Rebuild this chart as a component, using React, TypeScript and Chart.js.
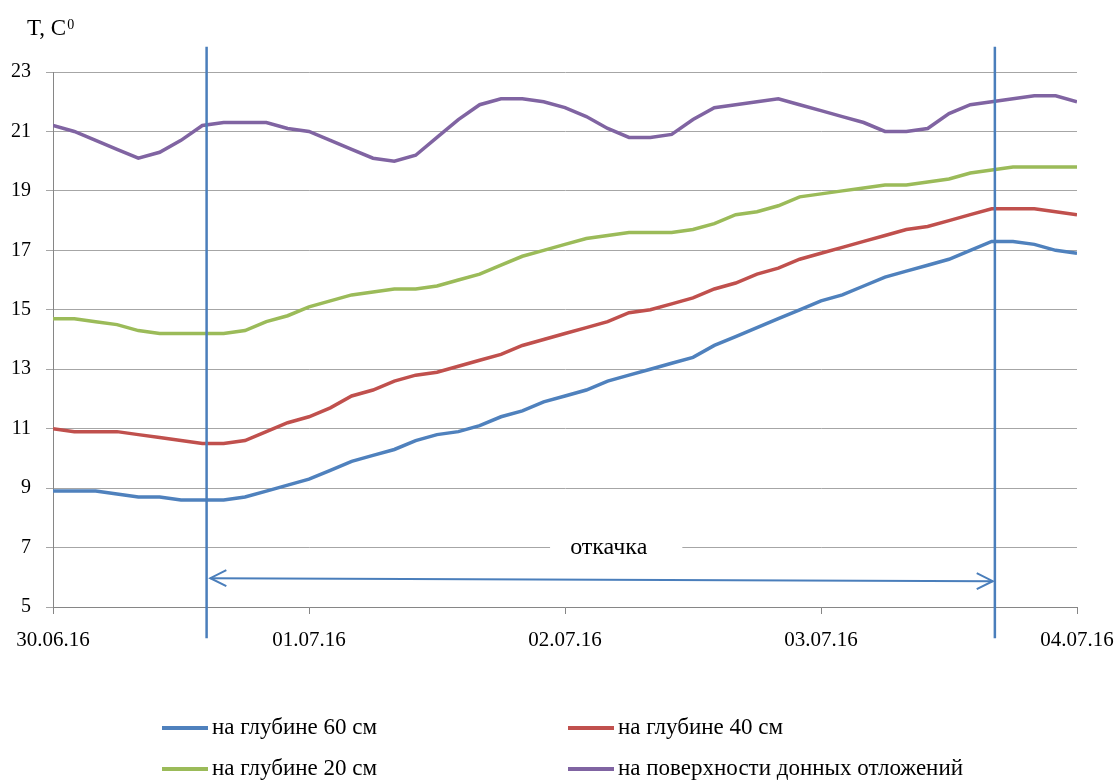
import React, { useEffect, useRef } from "react";
import { Chart, registerables } from "chart.js";

Chart.register(...registerables);

// hours since 30.06.16 00:00
const HOURS = [0, 2, 4, 6, 8, 10, 12, 14, 16, 18, 20, 22, 24, 26, 28, 30, 32, 34, 36, 38, 40, 42, 44, 46, 48, 50, 52, 54, 56, 58, 60, 62, 64, 66, 68, 70, 72, 74, 76, 78, 80, 82, 84, 86, 88, 90, 92, 94, 96];

const DAY_LABELS = ["30.06.16", "01.07.16", "02.07.16", "03.07.16", "04.07.16"];

const DEPTH_60 = [8.9, 8.9, 8.9, 8.8, 8.7, 8.7, 8.6, 8.6, 8.6, 8.7, 8.9, 9.1, 9.3, 9.6, 9.9, 10.1, 10.3, 10.6, 10.8, 10.9, 11.1, 11.4, 11.6, 11.9, 12.1, 12.3, 12.6, 12.8, 13.0, 13.2, 13.4, 13.8, 14.1, 14.4, 14.7, 15.0, 15.3, 15.5, 15.8, 16.1, 16.3, 16.5, 16.7, 17.0, 17.3, 17.3, 17.2, 17.0, 16.9];

const DEPTH_40 = [11.0, 10.9, 10.9, 10.9, 10.8, 10.7, 10.6, 10.5, 10.5, 10.6, 10.9, 11.2, 11.4, 11.7, 12.1, 12.3, 12.6, 12.8, 12.9, 13.1, 13.3, 13.5, 13.8, 14.0, 14.2, 14.4, 14.6, 14.9, 15.0, 15.2, 15.4, 15.7, 15.9, 16.2, 16.4, 16.7, 16.9, 17.1, 17.3, 17.5, 17.7, 17.8, 18.0, 18.2, 18.4, 18.4, 18.4, 18.3, 18.2];

const DEPTH_20 = [14.7, 14.7, 14.6, 14.5, 14.3, 14.2, 14.2, 14.2, 14.2, 14.3, 14.6, 14.8, 15.1, 15.3, 15.5, 15.6, 15.7, 15.7, 15.8, 16.0, 16.2, 16.5, 16.8, 17.0, 17.2, 17.4, 17.5, 17.6, 17.6, 17.6, 17.7, 17.9, 18.2, 18.3, 18.5, 18.8, 18.9, 19.0, 19.1, 19.2, 19.2, 19.3, 19.4, 19.6, 19.7, 19.8, 19.8, 19.8, 19.8];

const SURFACE = [21.2, 21.0, 20.7, 20.4, 20.1, 20.3, 20.7, 21.2, 21.3, 21.3, 21.3, 21.1, 21.0, 20.7, 20.4, 20.1, 20.0, 20.2, 20.8, 21.4, 21.9, 22.1, 22.1, 22.0, 21.8, 21.5, 21.1, 20.8, 20.8, 20.9, 21.4, 21.8, 21.9, 22.0, 22.1, 21.9, 21.7, 21.5, 21.3, 21.0, 21.0, 21.1, 21.6, 21.9, 22.0, 22.1, 22.2, 22.2, 22.0];

const SERIES_NAMES = ["на глубине 60 см", "на глубине 40 см", "на глубине 20 см", "на поверхности донных отложений"];
const SERIES_VALUES = [DEPTH_60, DEPTH_40, DEPTH_20, SURFACE];
const SERIES_COLORS = ["#4F81BD", "#C0504D", "#9BBB59", "#8064A2"];

const Y_TITLE = "T, C";
const Y_TITLE_SUP = "0";
const PUMP_LABEL = "откачка";

// annotation anchors (hours / °C)
const PUMP_START_H = 14.4;
const PUMP_END_H = 88.3;
const VLINE_TOP = 23.85;
const VLINE_BOTTOM = 3.95;
const ARROW_LEFT = { h: 14.75, v: 5.97 };
const ARROW_RIGHT = { h: 88.1, v: 5.87 };
const LABEL_POS = { h: 52.1, v: 7 };
const LABEL_GAP = { h1: 46.6, h2: 59.0 };

const FONT_FAMILY = "'Liberation Serif', 'Times New Roman', serif";
const MARK_COLOR = "#4A7EBB";

const annotationPlugin = {
  id: "pumpAnnotations",
  afterDatasetsDraw(chart: any) {
    const ctx = chart.ctx as CanvasRenderingContext2D;
    const xs = chart.scales.x;
    const ys = chart.scales.y;
    ctx.save();

    // label gap covering gridline
    const gx1 = xs.getPixelForValue(LABEL_GAP.h1);
    const gx2 = xs.getPixelForValue(LABEL_GAP.h2);
    const ly = ys.getPixelForValue(LABEL_POS.v);
    ctx.fillStyle = "#ffffff";
    ctx.fillRect(gx1, ly - 3, gx2 - gx1, 6);
    ctx.fillStyle = "#000000";
    ctx.font = `24px ${FONT_FAMILY}`;
    ctx.textAlign = "center";
    ctx.textBaseline = "middle";
    ctx.fillText(PUMP_LABEL, xs.getPixelForValue(LABEL_POS.h), ly);

    // vertical lines
    ctx.strokeStyle = MARK_COLOR;
    ctx.lineWidth = 2.5;
    for (const h of [PUMP_START_H, PUMP_END_H]) {
      const px = xs.getPixelForValue(h);
      ctx.beginPath();
      ctx.moveTo(px, ys.getPixelForValue(VLINE_TOP));
      ctx.lineTo(px, ys.getPixelForValue(VLINE_BOTTOM));
      ctx.stroke();
    }

    // double arrow
    const ax1 = xs.getPixelForValue(ARROW_LEFT.h);
    const ay1 = ys.getPixelForValue(ARROW_LEFT.v);
    const ax2 = xs.getPixelForValue(ARROW_RIGHT.h);
    const ay2 = ys.getPixelForValue(ARROW_RIGHT.v);
    ctx.lineWidth = 2;
    ctx.beginPath();
    ctx.moveTo(ax1, ay1);
    ctx.lineTo(ax2, ay2);
    ctx.stroke();
    const head = (tx: number, ty: number, dir: number) => {
      ctx.beginPath();
      ctx.moveTo(tx + dir * 16, ty - 8);
      ctx.lineTo(tx, ty);
      ctx.lineTo(tx + dir * 16, ty + 8);
      ctx.stroke();
    };
    head(ax1, ay1, 1);
    head(ax2, ay2, -1);

    // y title
    ctx.fillStyle = "#000000";
    ctx.textAlign = "left";
    ctx.textBaseline = "alphabetic";
    ctx.font = `23px ${FONT_FAMILY}`;
    ctx.fillText(Y_TITLE, 27, 35);
    const w = ctx.measureText(Y_TITLE).width;
    ctx.font = `14px ${FONT_FAMILY}`;
    ctx.fillText(Y_TITLE_SUP, 27 + w + 1, 29);

    // legend
    const cols = [162, 568];
    const rows = [728, 769];
    ctx.font = `23px ${FONT_FAMILY}`;
    ctx.textBaseline = "middle";
    SERIES_NAMES.forEach((name, i) => {
      const x = cols[i % 2];
      const y = rows[Math.floor(i / 2)];
      ctx.strokeStyle = SERIES_COLORS[i];
      ctx.lineWidth = 4;
      ctx.beginPath();
      ctx.moveTo(x, y);
      ctx.lineTo(x + 46, y);
      ctx.stroke();
      ctx.fillStyle = "#000000";
      ctx.fillText(name, x + 50, y);
    });

    ctx.restore();
  },
};

export default function App() {
  const ref = useRef<HTMLCanvasElement | null>(null);

  useEffect(() => {
    if (!ref.current) return;
    const chart = new Chart(ref.current, {
      type: "line",
      data: {
        datasets: SERIES_VALUES.map((vals, i) => ({
          label: SERIES_NAMES[i],
          data: vals.map((v, j) => ({ x: HOURS[j], y: v })),
          borderColor: SERIES_COLORS[i],
          backgroundColor: SERIES_COLORS[i],
          borderWidth: 3.5,
          pointRadius: 0,
          tension: 0,
          fill: false,
        })),
      },
      options: {
        responsive: false,
        animation: false,
        layout: { padding: { top: 72, right: 39, left: 0, bottom: 0 } },
        plugins: {
          legend: { display: false },
          tooltip: { enabled: false },
        },
        scales: {
          x: {
            type: "linear",
            min: 0,
            max: 96,
            ticks: {
              stepSize: 24,
              autoSkip: false,
              maxRotation: 0,
              padding: 14,
              color: "#000000",
              font: { family: FONT_FAMILY, size: 21 },
              callback: (v: any) => DAY_LABELS[Math.round(Number(v) / 24)] ?? "",
            },
            grid: { drawOnChartArea: false, tickLength: 7, color: "#868686" },
            border: { color: "#868686" },
            afterFit: (s: any) => {
              s.height = 174;
              s.paddingLeft = 0;
              s.paddingRight = 0;
            },
          },
          y: {
            min: 5,
            max: 23,
            ticks: { stepSize: 2, padding: 15, color: "#000000", font: { family: FONT_FAMILY, size: 20 } },
            grid: { color: "#A6A6A6", tickLength: 7 },
            border: { color: "#868686" },
            afterFit: (s: any) => {
              s.width = 53;
              s.paddingTop = 0;
              s.paddingBottom = 0;
            },
          },
        },
      } as any,
      plugins: [annotationPlugin],
    });
    return () => chart.destroy();
  }, []);

  return (
    <div style={{ position: "fixed", left: 0, top: 0, width: 1116, height: 781, background: "#fff" }}>
      <canvas ref={ref} width={1116} height={781} style={{ display: "block" }} />
    </div>
  );
}
